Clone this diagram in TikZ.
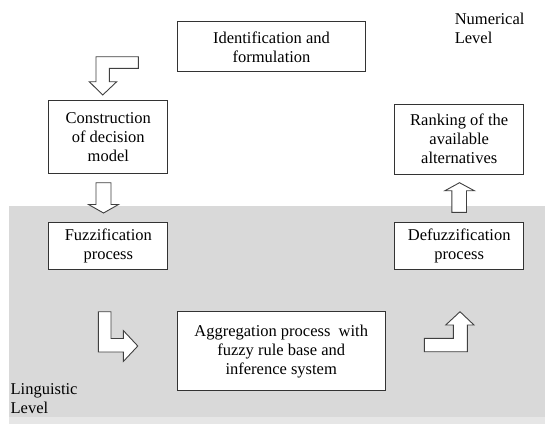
\documentclass[tikz,border=0pt]{standalone}
\usepackage{fontspec}
\setmainfont{Liberation Serif}
\definecolor{bandgray}{HTML}{D9D9D9}
\definecolor{lowgray}{HTML}{E6E6E6}
\begin{document}
\begin{tikzpicture}[x=1pt,y=-1pt,
  boxnode/.style={draw=black!80,line width=0.9pt,fill=white,rectangle,align=center,inner sep=0pt,
    font=\fontsize{16.5}{19}\selectfont},
  levellabel/.style={align=left,inner sep=0pt,anchor=north west,font=\fontsize{16.5}{19}\selectfont},
  blockarrow/.style={draw=black!75,line width=0.9pt,fill=white,line join=miter}]
\useasboundingbox (0,0) rectangle (545,424);
\fill[white] (0,0) rectangle (545,424);
\fill[bandgray] (9,206) rectangle (545,417);
\fill[lowgray] (9,417) rectangle (545,424);

\node[boxnode,minimum width=188pt,minimum height=50pt] (ident) at (271.5,46.8) {Identification and\\formulation};
\node[boxnode,minimum width=119pt,minimum height=73pt] (constr) at (108.3,136.7) {Construction\\of decision\\model};
\node[boxnode,minimum width=129pt,minimum height=70pt] (rank) at (459.2,139.2) {Ranking of the\\available\\alternatives};
\node[boxnode,minimum width=119pt,minimum height=47pt] (fuzz) at (108.3,246) {Fuzzification\\process};
\node[boxnode,minimum width=129pt,minimum height=47pt] (defuzz) at (459.2,246) {Defuzzification\\process};
\node[boxnode,minimum width=208pt,minimum height=79pt] (aggr) at (281.2,351.3) {Aggregation process\ \ with\\fuzzy rule base and\\inference system};

\node[levellabel] (num) at (454.6,13) {Numerical\\Level};
\node[levellabel] (ling) at (10.4,383) {Linguistic\\Level};

% bent arrow: identification -> construction
\draw[blockarrow] (96,56.7) -- (138.3,56.7) -- (138.3,68.3) -- (109.3,68.3) -- (109.3,81.7)
  -- (116.7,81.7) -- (102.7,95) -- (89.3,81.7) -- (96,81.7) -- cycle;
% down arrow: construction -> fuzzification
\draw[blockarrow] (96,182.7) -- (111,182.7) -- (111,204.5) -- (118.5,204.5) -- (103.5,213)
  -- (88.5,204.5) -- (96,204.5) -- cycle;
% bent arrow: fuzzification -> aggregation
\draw[blockarrow] (98.4,311.7) -- (111,311.7) -- (111,338.5) -- (123.3,338.5) -- (123.3,330.5)
  -- (137.8,346) -- (123.3,361.5) -- (123.3,352) -- (98.4,352) -- cycle;
% bent arrow: aggregation -> defuzzification
\draw[blockarrow] (424.3,338.3) -- (453.3,338.3) -- (453.3,325) -- (445.7,325) -- (460,311.7)
  -- (474,325) -- (467.3,325) -- (467.3,351.7) -- (424.3,351.7) -- cycle;
% up arrow: defuzzification -> ranking
\draw[blockarrow] (451.9,212.3) -- (451.9,190.7) -- (444.9,190.7) -- (459.5,182.7)
  -- (474.3,190.7) -- (466.5,190.7) -- (466.5,212.3) -- cycle;
\end{tikzpicture}
\end{document}
